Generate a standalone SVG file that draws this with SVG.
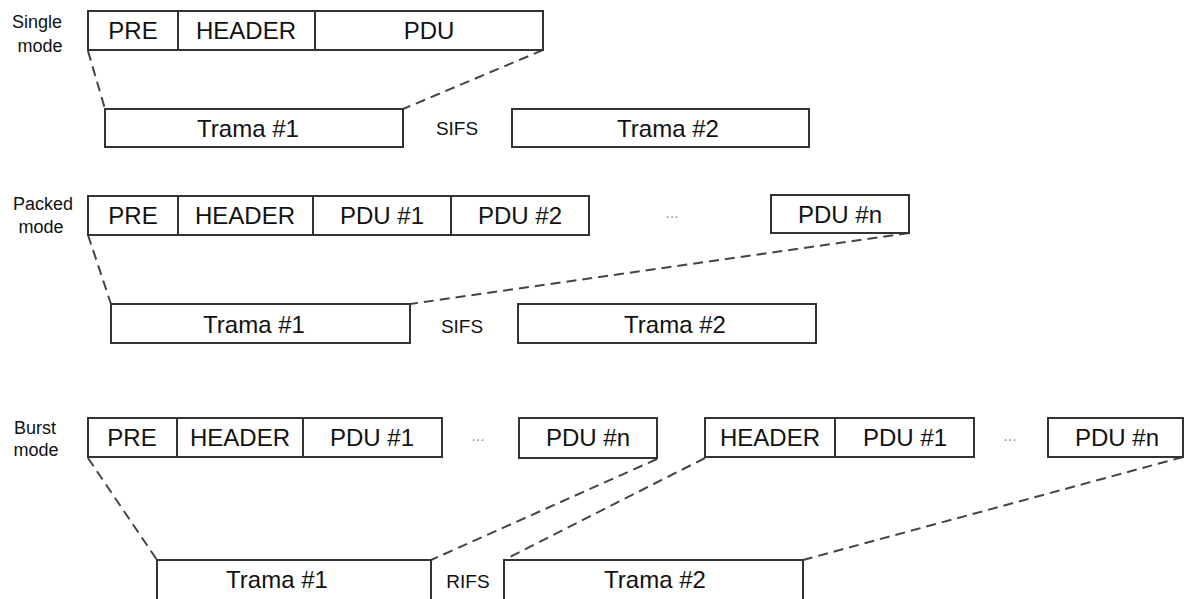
<svg xmlns="http://www.w3.org/2000/svg" width="1184" height="599" viewBox="0 0 1184 599">
<style>
.box{fill:#fff;stroke:#333;stroke-width:2}
.div{stroke:#333;stroke-width:2}
.lbl{font-family:"Liberation Sans",Arial,sans-serif;font-size:24px;fill:#111;text-anchor:middle}
.side{font-family:"Liberation Sans",Arial,sans-serif;font-size:18px;fill:#111;text-anchor:middle}
.gap{font-family:"Liberation Sans",Arial,sans-serif;font-size:19px;fill:#111;text-anchor:middle}
.dots{font-family:"Liberation Sans",Arial,sans-serif;font-size:16px;fill:#999;text-anchor:middle}
.dash{stroke:#444;stroke-width:2;stroke-dasharray:10,6;fill:none}
</style>
<rect width="1184" height="599" fill="#fff"/>

<g id="connectors">
<line class="dash" x1="88" y1="51" x2="105" y2="109"/>
<line class="dash" x1="543" y1="50" x2="403" y2="109"/>
<line class="dash" x1="88" y1="235" x2="111" y2="304"/>
<line class="dash" x1="909" y1="233" x2="410" y2="304"/>
<line class="dash" x1="88" y1="458" x2="157" y2="560"/>
<line class="dash" x1="657" y1="459" x2="431" y2="560"/>
<line class="dash" x1="705" y1="458" x2="504" y2="560"/>
<line class="dash" x1="1183" y1="457" x2="803" y2="560"/>
</g>

<!-- Single mode -->
<g id="single-label">
<text class="side" x="37" y="28">Single</text>
<text class="side" x="40" y="52">mode</text>
</g>
<g id="single-frame">
<rect class="box" x="88" y="11" width="455" height="39"/>
<line class="div" x1="178" y1="11" x2="178" y2="50"/>
<line class="div" x1="315" y1="11" x2="315" y2="50"/>
<text class="lbl" x="133" y="39">PRE</text>
<text class="lbl" x="246" y="39">HEADER</text>
<text class="lbl" x="429" y="39">PDU</text>
</g>
<g id="single-trama1">
<rect class="box" x="105" y="109" width="298" height="38"/>
<text class="lbl" x="248" y="137">Trama #1</text>
</g>
<g id="single-sifs"><text class="gap" x="457" y="135">SIFS</text></g>
<g id="single-trama2">
<rect class="box" x="512" y="109" width="297" height="38"/>
<text class="lbl" x="668" y="137">Trama #2</text>
</g>

<!-- Packed mode -->
<g id="packed-label">
<text class="side" x="43" y="210">Packed</text>
<text class="side" x="41" y="233">mode</text>
</g>
<g id="packed-frame">
<rect class="box" x="88" y="196" width="501" height="39"/>
<line class="div" x1="178" y1="196" x2="178" y2="235"/>
<line class="div" x1="313" y1="196" x2="313" y2="235"/>
<line class="div" x1="451" y1="196" x2="451" y2="235"/>
<text class="lbl" x="133" y="224">PRE</text>
<text class="lbl" x="245" y="224">HEADER</text>
<text class="lbl" x="382" y="224">PDU #1</text>
<text class="lbl" x="520" y="224">PDU #2</text>
</g>
<g id="packed-dots"><text class="dots" x="672" y="218">...</text></g>
<g id="packed-pdun">
<rect class="box" x="771" y="195" width="138" height="38"/>
<text class="lbl" x="840" y="223">PDU #n</text>
</g>
<g id="packed-trama1">
<rect class="box" x="111" y="304" width="299" height="39"/>
<text class="lbl" x="254" y="333">Trama #1</text>
</g>
<g id="packed-sifs"><text class="gap" x="462" y="333">SIFS</text></g>
<g id="packed-trama2">
<rect class="box" x="518" y="304" width="298" height="39"/>
<text class="lbl" x="675" y="333">Trama #2</text>
</g>

<!-- Burst mode -->
<g id="burst-label">
<text class="side" x="35" y="434">Burst</text>
<text class="side" x="36" y="456">mode</text>
</g>
<g id="burst-frame1">
<rect class="box" x="88" y="418" width="354" height="39"/>
<line class="div" x1="177" y1="418" x2="177" y2="457"/>
<line class="div" x1="303" y1="418" x2="303" y2="457"/>
<text class="lbl" x="132" y="446">PRE</text>
<text class="lbl" x="240" y="446">HEADER</text>
<text class="lbl" x="372" y="446">PDU #1</text>
</g>
<g id="burst-dots1"><text class="dots" x="478" y="441">...</text></g>
<g id="burst-pdun1">
<rect class="box" x="519" y="418" width="138" height="40"/>
<text class="lbl" x="588" y="446">PDU #n</text>
</g>
<g id="burst-frame2">
<rect class="box" x="705" y="418" width="269" height="39"/>
<line class="div" x1="835" y1="418" x2="835" y2="457"/>
<text class="lbl" x="770" y="446">HEADER</text>
<text class="lbl" x="905" y="446">PDU #1</text>
</g>
<g id="burst-dots2"><text class="dots" x="1010" y="441">...</text></g>
<g id="burst-pdun2">
<rect class="box" x="1048" y="418" width="135" height="39"/>
<text class="lbl" x="1117" y="446">PDU #n</text>
</g>
<g id="burst-trama1">
<rect class="box" x="157" y="560" width="274" height="45"/>
<text class="lbl" x="277" y="588">Trama #1</text>
</g>
<g id="burst-rifs"><text class="gap" x="468" y="588">RIFS</text></g>
<g id="burst-trama2">
<rect class="box" x="504" y="560" width="299" height="45"/>
<text class="lbl" x="655" y="588">Trama #2</text>
</g>
</svg>
